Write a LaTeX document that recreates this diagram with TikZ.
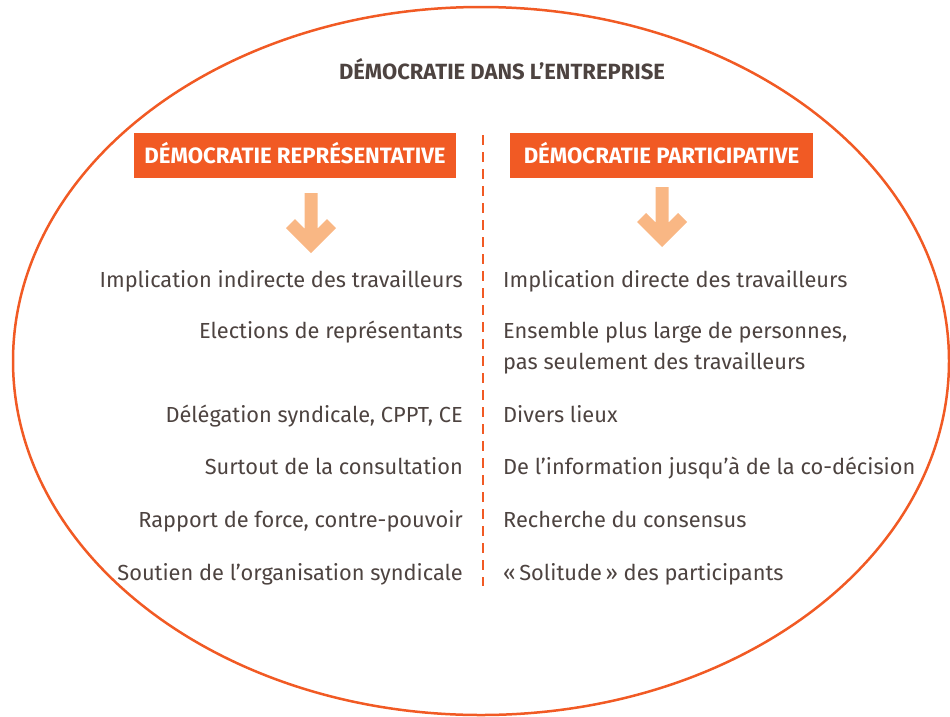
\documentclass[tikz,border=0pt]{standalone}
\usepackage{fontspec}
\setmainfont{Fira Sans}
\definecolor{orng}{HTML}{F15A24}
\definecolor{lightorng}{HTML}{F9B784}
\definecolor{txt}{HTML}{4D4340}
\tikzset{
  body/.style={inner sep=0pt, text=txt, font=\fontsize{21.8}{26}\selectfont},
  lefttxt/.style={body, anchor=base east},
  righttxt/.style={body, anchor=base west},
  headbox/.style={fill=orng, text=white, inner sep=0pt, minimum height=45pt,
    text height=15pt, text depth=0pt, font=\fontsize{22.2}{26}\selectfont\bfseries},
  bigarrow/.pic={
    \fill[lightorng] (-6.5,0) -- (6.5,0) -- (6.5,35.5) -- (16,26) -- (25,35)
      -- (0,60) -- (-25,35) -- (-16,26) -- (-6.5,35.5) -- cycle;
  }
}
\begin{document}
\begin{tikzpicture}[x=1pt,y=-1pt]
\useasboundingbox (0,0) rectangle (950,716);
\draw[orng, line width=2.5pt] (481,361) ellipse [x radius=468, y radius=354];
\node[anchor=base, inner sep=0pt, text=txt, font=\fontsize{22}{26}\selectfont\bfseries] (title) at (502,79) {DÉMOCRATIE DANS L’ENTREPRISE};
\node[headbox, minimum width=322pt] (rep) at (295,155.5) {DÉMOCRATIE REPRÉSENTATIVE};
\node[headbox, minimum width=303pt] (par) at (661.5,155.5) {DÉMOCRATIE PARTICIPATIVE};
\coordinate (divtop) at (483,135);
\coordinate (divbot) at (483,586);
\draw[orng, line width=2.5pt, dash pattern=on 10pt off 7pt] (divtop) -- (divbot);
\pic at (311,193) {bigarrow};
\pic at (662,187) {bigarrow};
\node[lefttxt] (l1) at (463,287) {Implication indirecte des travailleurs};
\node[lefttxt] (l2) at (463,338) {Elections de représentants};
\node[lefttxt] (l3) at (463,422) {Délégation syndicale, CPPT, CE};
\node[lefttxt] (l4) at (463,474) {Surtout de la consultation};
\node[lefttxt] (l5) at (463,527) {Rapport de force, contre-pouvoir};
\node[lefttxt] (l6) at (463,580) {Soutien de l’organisation syndicale};
\node[righttxt] (r1) at (503,287) {Implication directe des travailleurs};
\node[righttxt] (r2a) at (503,338) {Ensemble plus large de personnes,};
\node[righttxt] (r2b) at (503,369) {pas seulement des travailleurs};
\node[righttxt] (r3) at (503,422) {Divers lieux};
\node[righttxt] (r4) at (503,474) {De l’information jusqu’à de la co-décision};
\node[righttxt] (r5) at (503,527) {Recherche du consensus};
\node[righttxt] (r6) at (503,580) {«\,Solitude\,» des participants};
\end{tikzpicture}
\end{document}
